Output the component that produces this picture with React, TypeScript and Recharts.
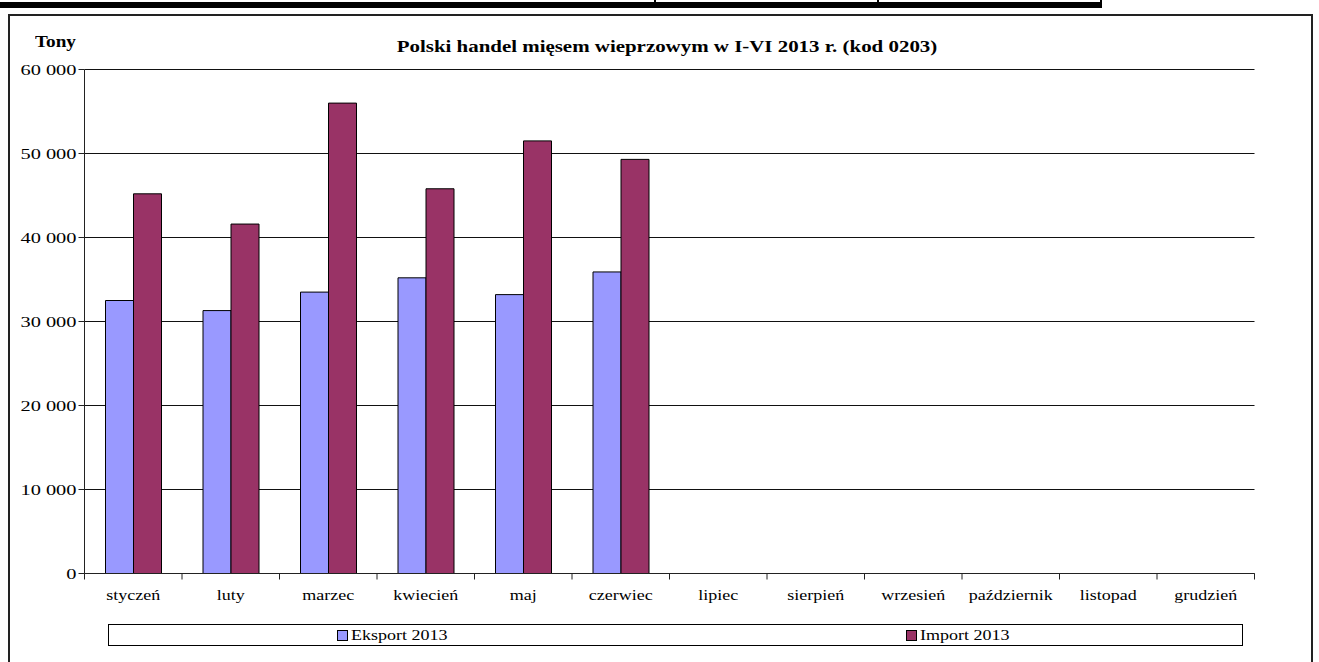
import React from 'react';
import { BarChart, Bar, XAxis, YAxis, CartesianGrid } from 'recharts';

const months = [
    'styczeń', 'luty', 'marzec', 'kwiecień', 'maj', 'czerwiec',
    'lipiec', 'sierpień', 'wrzesień', 'październik', 'listopad', 'grudzień',
];
const eksport2013 = [32500, 31300, 33500, 35200, 33200, 35900];
const import2013 = [45200, 41600, 56000, 45800, 51500, 49300];
const yTicks = [0, 10000, 20000, 30000, 40000, 50000, 60000];

const data = months.map((m, i) => ({
    month: m,
    eksport: eksport2013[i],
    import: import2013[i],
}));

const FONT = '"Liberation Serif", "Times New Roman", serif';
const STRETCH = 1.2;
const W = 1319;
const H = 662;
// half-pixel offsets keep the 1px grid lines crisp
const PLOT_LEFT = 84.5;
const PLOT_RIGHT = 1254.5;
const PLOT_TOP = 69.5;
const PLOT_BOTTOM = 573.5;
const Y_AXIS_W = 60;
const X_AXIS_H = 30;
const BAND = (PLOT_RIGHT - PLOT_LEFT) / months.length;

const fmt = (v: number) => {
    const s = String(v);
    return s.length > 3 ? s.slice(0, s.length - 3) + ' ' + s.slice(-3) : s;
};

const YTick = (props: any) => {
    const { x, y, payload } = props;
    return (
        <g transform={`translate(${x},${y})`}>
            <text transform="scale(1.36,1)" textAnchor="end" dy="0.35em" fontSize={15} fontFamily={FONT} fill="#000">
                {fmt(payload.value)}
            </text>
        </g>
    );
};

// ticks sit between categories, like the original
const XTick = (props: any) => {
    const { x, y, payload, index } = props;
    const axisY = y - 16;
    return (
        <g>
            <line x1={x - BAND / 2} x2={x - BAND / 2} y1={axisY} y2={axisY + 6} stroke="#222" />
            {index === months.length - 1 && (
                <line x1={x + BAND / 2} x2={x + BAND / 2} y1={axisY} y2={axisY + 6} stroke="#222" />
            )}
            <g transform={`translate(${x},${y})`}>
                <text transform={`scale(${STRETCH},1)`} textAnchor="middle" dy="0.71em" fontSize={15} fontFamily={FONT} fill="#000">
                    {payload.value}
                </text>
            </g>
        </g>
    );
};

const legendItems = [
    { label: 'Eksport 2013', color: '#9999FF' },
    { label: 'Import 2013', color: '#993366' },
];

export default function App() {
    return (
        <div style={{ position: 'absolute', left: 0, top: 0, width: W, height: H, overflow: 'hidden', background: '#fff', fontFamily: FONT }}>
            {/* remnant of the table above the chart */}
            <div style={{ position: 'absolute', left: 0, top: 2, width: 1102, height: 6, background: '#000' }} />
            {[654, 877, 1100].map((lx) => (
                <div key={lx} style={{ position: 'absolute', left: lx, top: 0, width: 2, height: 6, background: '#000' }} />
            ))}
            <div style={{ position: 'absolute', left: 8, top: 14, width: 1301, height: 700, border: '2px solid #222' }} />

            <div style={{ position: 'absolute', left: 35, top: 33, fontSize: 16, fontWeight: 'bold', transform: `scaleX(${STRETCH})`, transformOrigin: 'left center' }}>
                Tony
            </div>
            <div style={{ position: 'absolute', left: 0, width: 1334, top: 37, textAlign: 'center', fontSize: 17, fontWeight: 'bold', transform: `scaleX(1.23)`, transformOrigin: '667px center' }}>
                Polski handel mięsem wieprzowym w I-VI 2013 r. (kod 0203)
            </div>

            <div style={{ position: 'absolute', left: 0, top: 0 }}>
                <BarChart
                    width={W}
                    height={H}
                    data={data}
                    barSize={28}
                    barGap={0}
                    margin={{ top: PLOT_TOP, right: W - PLOT_RIGHT, bottom: H - PLOT_BOTTOM - X_AXIS_H, left: PLOT_LEFT - Y_AXIS_W }}
                >
                    <CartesianGrid vertical={false} stroke="#111" yAxisId="l" />
                    <XAxis
                        dataKey="month"
                        height={X_AXIS_H}
                        interval={0}
                        axisLine={{ stroke: '#222' }}
                        tickLine={false}
                        tickSize={6}
                        tickMargin={10}
                        tick={<XTick />}
                    />
                    <YAxis
                        yAxisId="l"
                        width={Y_AXIS_W}
                        domain={[0, 60000]}
                        ticks={yTicks}
                        interval={0}
                        axisLine={{ stroke: '#222' }}
                        tickLine={{ stroke: '#222' }}
                        tickSize={6}
                        tick={<YTick />}
                    />
                    <YAxis yAxisId="r" orientation="right" width={0} domain={[0, 60000]} tick={false} tickLine={false} axisLine={{ stroke: '#222' }} />
                    <Bar yAxisId="l" dataKey="eksport" name="Eksport 2013" fill="#9999FF" stroke="#000" strokeWidth={1} isAnimationActive={false} />
                    <Bar yAxisId="l" dataKey="import" name="Import 2013" fill="#993366" stroke="#000" strokeWidth={1} isAnimationActive={false} />
                </BarChart>
            </div>

            <div style={{ position: 'absolute', left: 108, top: 624, width: 1133, height: 20, border: '1px solid #000', display: 'flex' }}>
                {legendItems.map((it) => (
                    <div key={it.label} style={{ flex: 1, display: 'flex', alignItems: 'center', justifyContent: 'center' }}>
                        <span style={{ display: 'inline-block', width: 9, height: 9, background: it.color, border: '1px solid #000', marginRight: 3 }} />
                        <span style={{ display: 'inline-block', fontSize: 15, lineHeight: '20px', transform: `scaleX(${STRETCH})`, transformOrigin: 'left center', marginRight: 16 }}>
                            {it.label}
                        </span>
                    </div>
                ))}
            </div>
        </div>
    );
}
